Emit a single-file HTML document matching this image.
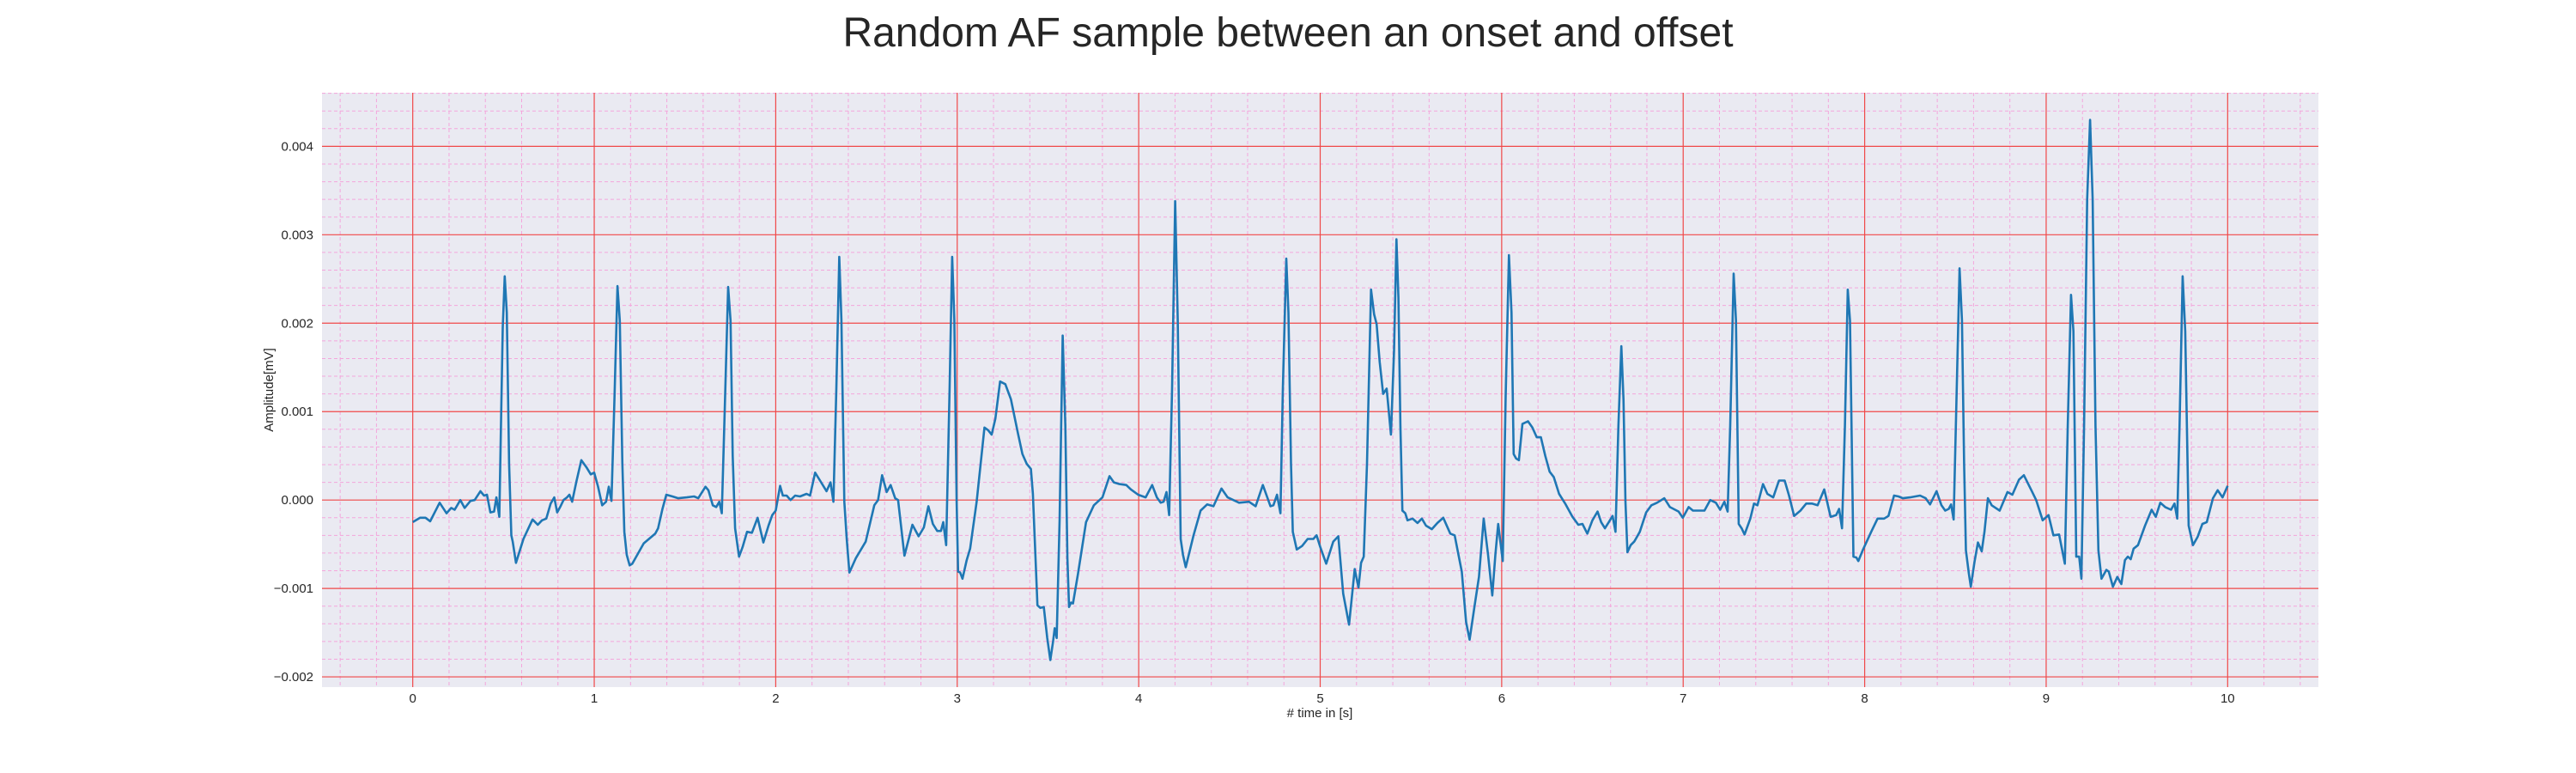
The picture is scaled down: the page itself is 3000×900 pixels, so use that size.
<!DOCTYPE html>
<html><head><meta charset="utf-8"><style>
html,body{margin:0;padding:0;background:#fff;}
svg{display:block;font-family:"Liberation Sans",Arial,sans-serif;}
</style></head><body>
<svg id="chart" width="3000" height="900" viewBox="0 0 3000 900" xmlns="http://www.w3.org/2000/svg">
<rect width="3000" height="900" fill="#fff"/>
<text x="1500" y="54" text-anchor="middle" font-size="48" fill="#262626">Random AF sample between an onset and offset</text>
<rect x="375" y="108" width="2325" height="692" fill="#EAEAF2"/>
<g id="grid"></g>
<g id="ticks"></g>
<polyline id="ecg" fill="none" stroke="#1f77b4" stroke-width="2.6" stroke-linejoin="round"/>
<text transform="translate(318,454) rotate(-90)" text-anchor="middle" font-size="15" fill="#262626">Amplitude[mV]</text>
<text x="1537" y="835" text-anchor="middle" font-size="15" fill="#262626"># time in [s]</text>
</svg>
<script>
const times = [0,0.041,0.07,0.096,0.148,0.186,0.212,0.231,0.262,0.286,0.318,0.341,0.373,0.393,0.409,0.428,0.448,0.461,0.477,0.496,0.507,0.518,0.531,0.543,0.551,0.569,0.61,0.66,0.689,0.712,0.736,0.76,0.78,0.796,0.812,0.831,0.85,0.863,0.878,0.902,0.929,0.957,0.981,1.0,1.021,1.044,1.065,1.08,1.095,1.112,1.128,1.141,1.155,1.166,1.179,1.195,1.21,1.273,1.336,1.352,1.376,1.397,1.431,1.463,1.51,1.55,1.573,1.613,1.629,1.653,1.672,1.689,1.703,1.719,1.738,1.751,1.763,1.776,1.798,1.818,1.842,1.869,1.9,1.932,1.96,1.981,2.0,
2.024,2.039,2.06,2.082,2.107,2.134,2.17,2.189,2.217,2.244,2.28,2.302,2.318,2.334,2.35,2.362,2.378,2.391,2.406,2.441,2.496,2.543,2.564,2.586,2.611,2.633,2.658,2.674,2.709,2.753,2.787,2.816,2.841,2.866,2.89,2.91,2.923,2.939,2.958,2.972,2.984,2.997,3.005,3.016,3.029,3.052,3.071,3.107,3.15,3.17,3.19,3.21,3.236,3.265,3.296,3.335,3.359,3.383,3.406,3.417,3.442,3.458,3.477,3.496,3.513,3.528,3.537,3.548,3.564,3.581,3.596,3.607,3.616,3.627,3.638,3.666,3.71,3.753,3.8,3.839,3.863,3.894,3.931,3.957,3.997,
4.038,4.074,4.1,4.121,4.137,4.153,4.168,4.184,4.201,4.215,4.231,4.244,4.259,4.302,4.341,4.377,4.412,4.456,4.49,4.553,4.608,4.644,4.684,4.726,4.742,4.762,4.781,4.794,4.813,4.825,4.839,4.849,4.871,4.9,4.931,4.962,4.98,5.0,5.033,5.072,5.1,5.127,5.159,5.19,5.211,5.225,5.24,5.258,5.28,5.297,5.311,5.328,5.347,5.366,5.39,5.407,5.42,5.431,5.442,5.453,5.469,5.481,5.509,5.536,5.56,5.583,5.615,5.646,5.678,5.717,5.741,5.78,5.804,5.823,5.851,5.875,5.901,5.925,5.948,5.965,5.981,
6.006,6.022,6.04,6.054,6.066,6.079,6.095,6.114,6.145,6.169,6.193,6.216,6.24,6.264,6.287,6.316,6.35,6.39,6.422,6.445,6.472,6.5,6.528,6.548,6.569,6.59,6.611,6.627,6.643,6.659,6.671,6.682,6.693,6.711,6.73,6.761,6.796,6.825,6.856,6.896,6.927,6.975,6.998,7.03,7.054,7.117,7.149,7.18,7.204,7.227,7.245,7.259,7.278,7.291,7.306,7.322,7.338,7.37,7.39,7.409,7.44,7.464,7.496,7.528,7.559,7.583,7.611,7.646,7.678,7.709,7.741,7.777,7.812,7.843,7.859,7.875,7.891,7.907,7.919,7.938,7.954,7.965,7.991,
8.036,8.071,8.107,8.131,8.162,8.186,8.21,8.25,8.305,8.336,8.36,8.396,8.423,8.444,8.463,8.476,8.49,8.507,8.523,8.536,8.548,8.558,8.574,8.585,8.605,8.624,8.645,8.66,8.679,8.7,8.744,8.787,8.814,8.85,8.877,8.921,8.945,8.981,9.013,9.04,9.071,9.103,9.119,9.137,9.15,9.166,9.182,9.194,9.209,9.226,9.242,9.256,9.272,9.288,9.305,9.332,9.345,9.368,9.392,9.414,9.434,9.45,9.466,9.482,9.506,9.545,9.581,9.604,9.629,9.656,9.688,9.707,9.722,9.735,9.752,9.766,9.785,9.809,9.834,9.861,9.885,9.919,9.945,9.972,10.0];
// amplitude in units of 1e-3 mV (multiplied by 0.001 on plotting)
const ampMilli = [-0.25,-0.2,-0.2,-0.24,-0.03,-0.15,-0.09,-0.11,0,-0.09,-0.01,0,0.1,0.05,0.06,-0.14,-0.13,0.03,-0.19,1.95,2.53,2.12,0.41,-0.4,-0.47,-0.71,-0.44,-0.22,-0.28,-0.23,-0.21,-0.04,0.03,-0.14,-0.08,0,0.03,0.06,-0.02,0.21,0.45,0.37,0.29,0.31,0.15,-0.06,-0.02,0.15,-0.01,1.18,2.42,2.03,0.41,-0.36,-0.62,-0.74,-0.72,-0.49,-0.38,-0.32,-0.1,0.06,0.04,0.02,0.03,0.04,0.02,0.15,0.11,-0.06,-0.08,-0.02,-0.15,1.01,2.41,2.03,0.5,-0.32,-0.64,-0.53,-0.36,-0.37,-0.2,-0.48,-0.29,-0.17,-0.12,
0.16,0.05,0.05,0,0.05,0.04,0.07,0.05,0.31,0.22,0.1,0.2,-0.02,1.26,2.75,2.04,-0.02,-0.44,-0.82,-0.66,-0.47,-0.06,0,0.28,0.09,0.17,0.02,0,-0.63,-0.28,-0.41,-0.31,-0.07,-0.27,-0.35,-0.35,-0.25,-0.51,1.26,2.75,2.04,-0.02,-0.81,-0.82,-0.89,-0.68,-0.55,-0.02,0.82,0.79,0.74,0.92,1.34,1.31,1.14,0.75,0.52,0.41,0.35,0.07,-1.19,-1.22,-1.21,-1.56,-1.81,-1.6,-1.45,-1.56,-0.23,1.86,0.84,-0.66,-1.21,-1.16,-1.17,-0.83,-0.25,-0.06,0.03,0.27,0.2,0.18,0.17,0.12,0.06,
0.03,0.17,0.03,-0.03,-0.02,0.09,-0.17,1.26,3.38,2.03,-0.44,-0.62,-0.76,-0.4,-0.12,-0.05,-0.07,0.13,0.03,-0.03,-0.02,-0.07,0.17,-0.07,-0.06,0.06,-0.15,1.26,2.73,2.12,0.41,-0.36,-0.56,-0.52,-0.44,-0.44,-0.4,-0.53,-0.72,-0.47,-0.41,-1.06,-1.41,-0.78,-0.99,-0.71,-0.64,0.41,2.38,2.1,1.99,1.56,1.2,1.26,0.74,1.69,2.95,2.29,0.84,-0.12,-0.15,-0.23,-0.21,-0.26,-0.21,-0.29,-0.33,-0.26,-0.2,-0.38,-0.4,-0.81,-1.38,-1.58,-1.19,-0.87,-0.21,-0.62,-1.08,-0.62,-0.27,
-0.69,1.18,2.77,2.12,0.52,0.47,0.45,0.86,0.89,0.82,0.71,0.71,0.5,0.32,0.26,0.07,-0.04,-0.19,-0.28,-0.27,-0.38,-0.23,-0.13,-0.25,-0.32,-0.25,-0.18,-0.36,0.84,1.74,1.14,-0.02,-0.59,-0.51,-0.47,-0.36,-0.14,-0.06,-0.03,0.02,-0.08,-0.13,-0.2,-0.08,-0.12,-0.12,0,-0.03,-0.11,-0.02,-0.13,0.84,2.56,2.03,-0.27,-0.32,-0.39,-0.21,-0.04,-0.06,0.18,0.07,0.03,0.22,0.22,0.05,-0.18,-0.12,-0.04,-0.04,-0.06,0.12,-0.19,-0.17,-0.1,-0.32,0.84,2.38,2.03,-0.64,-0.65,-0.69,-0.56,
-0.36,-0.21,-0.21,-0.18,0.05,0.04,0.02,0.03,0.05,0.02,-0.05,0.1,-0.06,-0.12,-0.1,-0.05,-0.22,1.26,2.62,2.03,0.41,-0.57,-0.83,-0.98,-0.7,-0.48,-0.58,-0.36,0.02,-0.06,-0.12,0.09,0.06,0.23,0.28,0.1,0,-0.23,-0.17,-0.4,-0.39,-0.72,0.84,2.32,1.91,-0.64,-0.64,-0.89,0.84,3.4,4.3,3.4,0.84,-0.57,-0.89,-0.79,-0.81,-0.98,-0.87,-0.95,-0.68,-0.64,-0.67,-0.55,-0.51,-0.29,-0.11,-0.19,-0.03,-0.08,-0.11,-0.04,-0.21,0.84,2.53,1.91,-0.29,-0.51,-0.42,-0.27,-0.25,0.02,0.11,0.03,0.16];
const xMajorTicks = [0,1,2,3,4,5,6,7,8,9,10];
const yMajorTicks = [-0.002,-0.001,0,0.001,0.002,0.003,0.004];
const yTickLabels = ["\u22120.002","\u22120.001","0.000","0.001","0.002","0.003","0.004"];

const L=375,R=2700,T=108,B=800, X0=-0.5,X1=10.5, Y0=-0.002116,Y1=0.004606;
const sx=t=>L+(t-X0)/(X1-X0)*(R-L);
const sy=v=>B-(v-Y0)/(Y1-Y0)*(B-T);
const NS="http://www.w3.org/2000/svg";
const grid=document.getElementById('grid'), ticks=document.getElementById('ticks');
function line(p,x1,y1,x2,y2,c,w,d){const l=document.createElementNS(NS,'line');l.setAttribute('x1',x1);l.setAttribute('y1',y1);l.setAttribute('x2',x2);l.setAttribute('y2',y2);l.setAttribute('stroke',c);l.setAttribute('stroke-width',w);if(d)l.setAttribute('stroke-dasharray',d);p.appendChild(l);return l;}
// minor grid
for(let i=-2;i<=52;i++){const t=i*0.2;if(Math.abs(t-Math.round(t))<1e-6)continue;const el=line(grid,sx(t),T,sx(t),B,'#f4a6dc',1,'4,3');

}
for(let i=-10;i<=23;i++){const v=i*0.0002;if(i%5===0)continue;const el=line(grid,L,sy(v),R,sy(v),'#f4a6dc',1,'4,3');

}
xMajorTicks.forEach(t=>{const el=line(grid,sx(t),T,sx(t),B,'#f04848',1.2);


const tx=document.createElementNS(NS,'text');tx.setAttribute('x',sx(t));tx.setAttribute('y',818);tx.setAttribute('text-anchor','middle');tx.setAttribute('font-size','15');tx.setAttribute('fill','#262626');tx.textContent=String(t);


ticks.appendChild(tx);});
yMajorTicks.forEach((v,i)=>{const el=line(grid,L,sy(v),R,sy(v),'#f04848',1.2);


const tx=document.createElementNS(NS,'text');tx.setAttribute('x',365);tx.setAttribute('y',sy(v)+5);tx.setAttribute('text-anchor','end');tx.setAttribute('font-size','15');tx.setAttribute('fill','#262626');tx.textContent=yTickLabels[i];


ticks.appendChild(tx);});
const n=Math.min(times.length,ampMilli.length);
const pts=[];for(let i=0;i<n;i++)pts.push(sx(times[i]).toFixed(1)+','+sy(ampMilli[i]*0.001).toFixed(1));
document.getElementById('ecg').setAttribute('points',pts.join(' '));
</script>
</body></html>
